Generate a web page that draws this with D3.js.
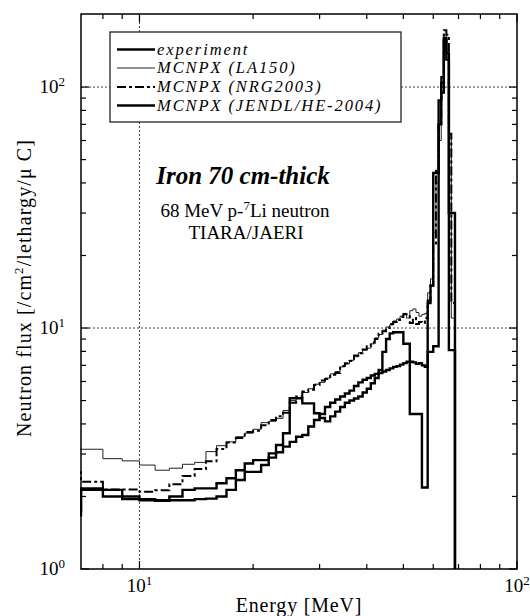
<!DOCTYPE html>
<html><head><meta charset="utf-8">
<script src="https://cdn.jsdelivr.net/npm/d3@7"></script>
<style>body{margin:0;background:#fff} svg{display:block}</style>
</head><body><svg id="c" width="530" height="616"></svg>
<script>
// bin edges [MeV]
const energyEdges = [6,7,8,9,10,11,12,13,14,15,16,17,18,19,20,21,22,23,24,25,26,27,28,29,30,31,32,33,34,35,36,37,38,39,40,41,42,43,44,45,46,47,48,49,50,51,52,53,54,55,56,57,58,59,60,61,62,63,64,65,66,67,68,68.5];
// flux per bin
const experiment = [1.67,2.13,2.13,2.00,1.95,1.93,2.00,2.13,2.16,2.16,2.27,2.38,2.57,2.74,2.83,2.83,3.02,3.27,3.66,5.11,5.11,4.87,4.87,4.43,4.23,4.10,4.30,4.50,4.70,4.90,5.00,5.10,5.20,5.40,5.60,5.90,6.20,6.70,7.96,9.00,9.50,9.60,9.60,9.60,8.60,8.60,4.40,4.40,4.40,4.40,2.18,2.18,12.7,15,44,44,70,95,160,130,8.1,8.1,8.1];
const la150 = [3.14,3.14,2.87,2.81,2.70,2.57,2.62,2.72,2.77,3.07,3.25,3.37,3.54,3.66,3.80,4.05,4.10,4.22,4.55,5.00,5.15,5.40,5.60,5.85,5.95,6.20,6.45,6.60,6.90,7.10,7.35,7.60,7.90,8.10,8.25,8.60,9.10,9.40,9.80,10.1,10.3,10.7,10.9,11.2,11.5,11.0,11.8,12.0,11.6,11.2,11.4,11.5,14,16,25,40,60,100,165,140,64,11,11];
const nrg2003 = [2.52,2.30,2.14,2.14,2.09,2.12,2.25,2.43,2.60,2.80,3.15,3.35,3.50,3.70,3.75,3.95,4.15,4.30,4.45,4.90,5.20,5.45,5.55,5.80,6.05,6.15,6.40,6.50,6.95,7.15,7.30,7.70,7.85,8.15,8.40,8.70,9.00,9.50,9.70,10.0,10.4,10.6,10.8,11.1,11.4,11.2,10.5,11.0,10.4,10.6,10.5,11.0,13,15,22,45,70,110,172,165,64,12.7,12.7];
const jendl = [1.75,2.16,2.00,1.95,1.93,1.92,1.93,1.93,1.95,1.96,2.00,2.13,2.34,2.53,2.53,2.70,2.90,3.05,3.22,3.37,3.54,3.60,3.90,4.15,4.40,4.70,4.90,5.05,5.20,5.35,5.50,5.75,5.95,6.10,6.20,6.35,6.45,6.50,6.60,6.70,6.80,6.90,6.95,7.05,7.15,7.25,7.25,7.20,7.10,7.15,7.00,6.90,7.96,7.96,8.40,8.40,88,104,157,138,30,30,30];
const seriesNames = ["experiment","MCNPX (LA150)","MCNPX (NRG2003)","MCNPX (JENDL/HE-2004)"];
const xMajor = [10,100];
const xMinor = [8,9,20,30,40,50,60,70,80,90];
const yMajor = [1,10,100];
const yMinor = [2,3,4,5,6,7,8,9,20,30,40,50,60,70,80,90];

const svg = d3.select("#c");
const L=81,R=517,T=14,B=569;
const x = d3.scaleLog().domain([7,100]).range([L,R]);
const y = d3.scaleLog().domain([1,201]).range([B,T]);
const axisFont = "'Liberation Serif', serif";
const annFont = "'Liberation Serif', serif";

svg.append("defs").append("clipPath").attr("id","pc").append("rect")
  .attr("x",L-1).attr("y",T).attr("width",R-L+1).attr("height",B-T);

// grid
const grid = svg.append("g").attr("stroke","#444").attr("stroke-width",1).attr("stroke-dasharray","2,2");
grid.append("line").attr("x1",x(10)).attr("x2",x(10)).attr("y1",T).attr("y2",B);
[10,100].forEach(v=>grid.append("line").attr("x1",L).attr("x2",R).attr("y1",y(v)).attr("y2",y(v)));

// series
function pts(vals){
  const p = vals.map((v,i)=>[energyEdges[i], v]);
  const n = vals.length;
  p.push([energyEdges[n], vals[n-1]]);
  p.push([energyEdges[n], 0.3]);
  return p;
}
const line = d3.line().x(d=>x(d[0])).y(d=>y(d[1])).curve(d3.curveStepAfter);
const styles = [
  {data:experiment, w:2.4, dash:null, color:"#000"},
  {data:la150, w:1, dash:null, color:"#222"},
  {data:nrg2003, w:2, dash:"9,3,3,3", color:"#000"},
  {data:jendl, w:2.4, dash:null, color:"#000"}
];
const plot = svg.append("g").attr("clip-path","url(#pc)");
[1,2,3,0].forEach(k=>{
  const s = styles[k];
  plot.append("path").attr("d",line(pts(s.data))).attr("fill","none")
    .attr("stroke",s.color).attr("stroke-width",s.w)
    .attr("stroke-dasharray",s.dash).attr("stroke-linejoin","miter");
});

// frame
svg.append("rect").attr("x",L).attr("y",T).attr("width",R-L).attr("height",B-T)
  .attr("fill","none").attr("stroke","#000").attr("stroke-width",1.5);

// ticks
const tk = svg.append("g").attr("stroke","#000").attr("stroke-width",1.2);
function xt(v,len){
  tk.append("line").attr("x1",x(v)).attr("x2",x(v)).attr("y1",B).attr("y2",B-len);
  tk.append("line").attr("x1",x(v)).attr("x2",x(v)).attr("y1",T).attr("y2",T+len);
}
function yt(v,len){
  tk.append("line").attr("x1",L).attr("x2",L+len).attr("y1",y(v)).attr("y2",y(v));
  tk.append("line").attr("x1",R).attr("x2",R-len).attr("y1",y(v)).attr("y2",y(v));
}
xMinor.forEach(v=>xt(v,5)); xMajor.forEach(v=>xt(v,8));
yMinor.forEach(v=>yt(v,5)); yMajor.forEach(v=>yt(v,8));

// tick labels
yMajor.forEach(v=>{
  const t = svg.append("text").attr("x",65).attr("y",y(v)+6).attr("text-anchor","end")
    .attr("font-family",axisFont).attr("font-size",19).attr("fill","#000");
  t.append("tspan").text("10");
  t.append("tspan").attr("font-size",13).attr("dy",-7).text(Math.round(Math.log10(v)));
});
xMajor.forEach(v=>{
  const t = svg.append("text").attr("x",x(v)).attr("y",592).attr("text-anchor","middle")
    .attr("font-family",axisFont).attr("font-size",19).attr("fill","#000");
  t.append("tspan").text("10");
  t.append("tspan").attr("font-size",13).attr("dy",-7).text(Math.round(Math.log10(v)));
});

// axis titles
svg.append("text").attr("x",(L+R)/2).attr("y",612).attr("text-anchor","middle")
  .attr("font-family",axisFont).attr("font-size",20).attr("letter-spacing",0.8).text("Energy [MeV]");
const yl = svg.append("text").attr("transform","translate(31,288) rotate(-90)").attr("text-anchor","middle")
  .attr("font-family",axisFont).attr("font-size",20).attr("letter-spacing",1.1);
yl.append("tspan").text("Neutron flux [/cm");
yl.append("tspan").attr("font-size",13).attr("dy",-8).text("2");
yl.append("tspan").attr("dy",8).text("/lethargy/\u03bc C]");

// annotations
svg.append("text").attr("x",243).attr("y",184).attr("text-anchor","middle")
  .attr("font-family",annFont).attr("font-weight","bold").attr("font-style","italic")
  .attr("font-size",25).text("Iron 70 cm-thick");
const a2 = svg.append("text").attr("x",245).attr("y",217).attr("text-anchor","middle")
  .attr("font-family",annFont).attr("font-size",19);
a2.append("tspan").text("68 MeV p-");
a2.append("tspan").attr("font-size",13).attr("dy",-7).text("7");
a2.append("tspan").attr("dy",7).text("Li neutron");
svg.append("text").attr("x",246).attr("y",239).attr("text-anchor","middle")
  .attr("font-family",annFont).attr("font-size",19).text("TIARA/JAERI");

// legend
const lg = svg.append("g");
lg.append("rect").attr("x",110).attr("y",32).attr("width",291).attr("height",90)
  .attr("fill","#fff").attr("stroke","#222").attr("stroke-width",1.3);
const rowY = [49.5,68,87,105.5];
seriesNames.forEach((nm,i)=>{
  const s = styles[i];
  lg.append("line").attr("x1",117).attr("x2",155).attr("y1",rowY[i]).attr("y2",rowY[i])
    .attr("stroke",s.color).attr("stroke-width",s.w).attr("stroke-dasharray",s.dash);
  lg.append("text").attr("x",157).attr("y",rowY[i]+5).attr("font-family",axisFont)
    .attr("font-style","italic").attr("font-size",16.5).attr("letter-spacing",1.9).text(nm);
});
</script></body></html>
